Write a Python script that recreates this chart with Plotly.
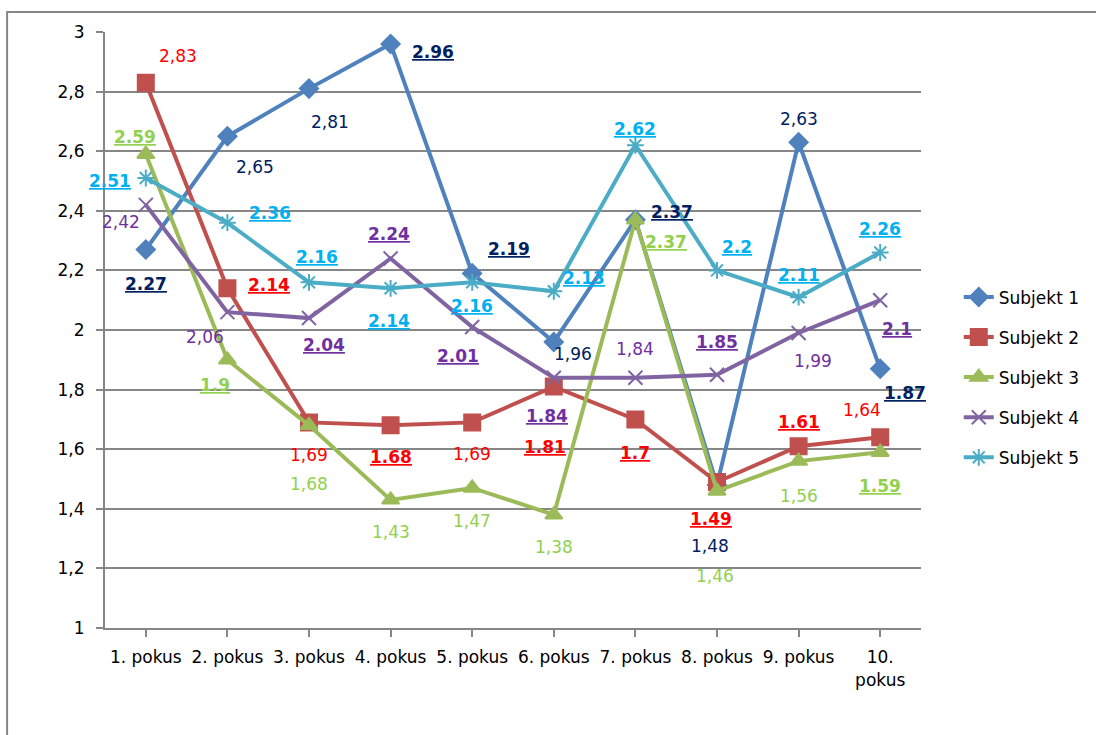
import plotly.graph_objects as go

categories = ["1. pokus", "2. pokus", "3. pokus", "4. pokus", "5. pokus",
              "6. pokus", "7. pokus", "8. pokus", "9. pokus", "10.<br>pokus"]

series_names = ["Subjekt 1", "Subjekt 2", "Subjekt 3", "Subjekt 4", "Subjekt 5"]

subjekt1 = [2.27, 2.65, 2.81, 2.96, 2.19, 1.96, 2.37, 1.48, 2.63, 1.87]
subjekt2 = [2.83, 2.14, 1.69, 1.68, 1.69, 1.81, 1.70, 1.49, 1.61, 1.64]
subjekt3 = [2.59, 1.90, 1.68, 1.43, 1.47, 1.38, 2.37, 1.46, 1.56, 1.59]
subjekt4 = [2.42, 2.06, 2.04, 2.24, 2.01, 1.84, 1.84, 1.85, 1.99, 2.10]
subjekt5 = [2.51, 2.36, 2.16, 2.14, 2.16, 2.13, 2.62, 2.20, 2.11, 2.26]

# label style: True = bold underlined with dot decimal, False = plain with comma decimal
bold1 = [True, False, False, True, True, False, True, False, False, True]
bold2 = [False, True, False, True, False, True, True, True, True, False]
bold3 = [True, True, False, False, False, False, True, False, False, True]
bold4 = [False, False, True, True, True, True, False, True, False, True]
bold5 = [True] * 10

# label offsets in pixels (dx right, dy down) relative to the point
dx1 = [0, 28, 21, 42, 37, 19, 37, -7, 0, 25]
dy1 = [34, 31, 33, 8, -24, 12, -8, 61, -23, 24]
dx2 = [32, 42, 0, 0, 0, -9, 0, -6, 0, -18]
dy2 = [-27, -3, 33, 32, 32, 60, 34, 37, -24, -27]
dx3 = [-11, -12, 0, 0, 0, 0, 31, -2, 0, 0]
dy3 = [-17, 25, 59, 32, 33, 32, 22, 85, 35, 34]
dx4 = [-25, -22, 15, -2, -14, -7, 0, 0, 14, 17]
dy4 = [17, 25, 27, -24, 29, 38, -29, -33, 28, 29]
dx5 = [-36, 43, 8, -2, 0, 30, 0, 20, 0, 0]
dy5 = [3, -10, -25, 33, 24, -13, -16, -23, -22, -24]

y_tickvals = [1, 1.2, 1.4, 1.6, 1.8, 2, 2.2, 2.4, 2.6, 2.8, 3]
y_ticktext = ["1", "1,2", "1,4", "1,6", "1,8", "2", "2,2", "2,4", "2,6", "2,8", "3"]

line_colors = ["#4F81BD", "#C0504D", "#9BBB59", "#8064A2", "#4BACC6"]
label_colors = ["#002060", "#FF0000", "#92D050", "#7030A0", "#00B0F0"]
symbols = ["diamond", "square", "triangle-up", "x-thin-open", "asterisk-open"]
marker_sizes = [14, 16, 15, 14, 14]

all_values = [subjekt1, subjekt2, subjekt3, subjekt4, subjekt5]
all_bold = [bold1, bold2, bold3, bold4, bold5]
all_dx = [dx1, dx2, dx3, dx4, dx5]
all_dy = [dy1, dy2, dy3, dy4, dy5]

FONT = "DejaVu Sans"

fig = go.Figure()
for i, vals in enumerate(all_values):
    fig.add_trace(go.Scatter(
        x=list(range(len(categories))), y=vals, name=series_names[i],
        mode="lines+markers", legendgroup=series_names[i],
        line=dict(color=line_colors[i], width=4),
        marker=dict(symbol=symbols[i], size=marker_sizes[i], color=line_colors[i],
                    line=dict(color=line_colors[i], width=2)),
        hoverinfo="skip",
    ))

annotations = []
for i, vals in enumerate(all_values):
    for j, v in enumerate(vals):
        txt = f"{v:g}"
        if all_bold[i][j]:
            txt = f"<b><u>{txt}</u></b>"
        else:
            txt = txt.replace(".", ",")
        annotations.append(dict(
            x=j, y=v, xref="x", yref="y", text=txt, showarrow=False,
            xshift=all_dx[i][j], yshift=-all_dy[i][j],
            font=dict(family=FONT, size=17, color=label_colors[i]),
        ))

fig.update_layout(
    width=1096, height=735,
    margin=dict(l=105, r=174, t=32, b=107),
    paper_bgcolor="white", plot_bgcolor="white",
    font=dict(family=FONT, size=16, color="black"),
    showlegend=True,
    legend=dict(x=1.045, y=0.585, xanchor="left", yanchor="top",
                font=dict(family=FONT, size=17, color="black"),
                tracegroupgap=15, bgcolor="rgba(0,0,0,0)"),
    annotations=annotations,
    shapes=[dict(type="rect", xref="paper", yref="paper",
                 x0=-0.12, x1=1.3, y0=-0.3, y1=1.0336,
                 line=dict(color="#868686", width=2), layer="below")],
    xaxis=dict(
        tickmode="array", tickvals=list(range(len(categories))), ticktext=categories,
        range=[-0.5, len(categories) - 0.5],
        showgrid=False, zeroline=False,
        showline=True, linecolor="#868686", linewidth=2,
        ticks="outside", tickson="boundaries", ticklen=7, tickcolor="#868686", tickwidth=2,
        tickfont=dict(family=FONT, size=17, color="black"),
        tickangle=0, ticklabelstandoff=6,
    ),
    yaxis=dict(
        range=[1, 3], tickmode="array", tickvals=y_tickvals, ticktext=y_ticktext,
        showgrid=True, gridcolor="#868686", gridwidth=2, zeroline=False,
        showline=True, linecolor="#868686", linewidth=2,
        ticks="outside", ticklen=7, tickcolor="#868686", tickwidth=2,
        tickfont=dict(family=FONT, size=17, color="black"),
        ticklabelstandoff=8,
    ),
)

fig.write_html("out.html", config={"displayModeBar": False},
               post_script="document.body.style.margin='0';document.body.style.overflow='hidden';")
